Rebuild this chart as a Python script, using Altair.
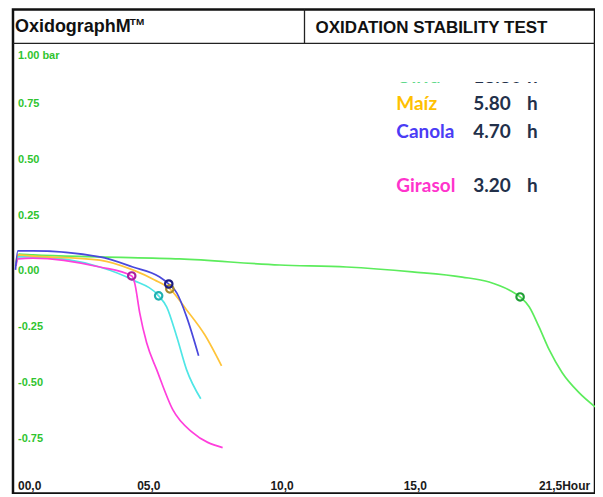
import altair as alt
import pandas as pd

# ---------------- data ----------------
series_names = ["Oliva", "Soja", "Girasol", "Maíz", "Canola"]
series_colors = ["#5cec5c", "#4fe6e6", "#ff3fdc", "#ffc43a", "#4a48dc"]
marker_colors = ["#1f9e35", "#20b0b0", "#a8209c", "#a88a2a", "#1c1c82"]

oliva_h = [0.00, 0.13, 0.66, 3.16, 6.16, 9.91, 12.42, 14.89, 16.76, 17.77, 18.52, 18.93, 19.27, 19.64, 20.02, 20.51, 21.14, 21.74]
oliva_v = [0.025, 0.078, 0.074, 0.065, 0.056, 0.029, 0.020, -0.002, -0.025, -0.047, -0.083, -0.114, -0.158, -0.248, -0.350, -0.453, -0.542, -0.605]

soja_h = [0.02, 0.09, 0.66, 3.16, 4.40, 5.37, 5.67, 6.05, 6.42, 6.95]
soja_v = [0.033, 0.065, 0.065, 0.020, -0.038, -0.109, -0.158, -0.292, -0.440, -0.569]

girasol_h = [0.02, 0.09, 0.66, 3.16, 4.36, 4.47, 4.66, 4.92, 5.30, 5.90, 6.65, 7.77]
girasol_v = [0.025, 0.056, 0.060, 0.020, -0.020, -0.051, -0.185, -0.319, -0.440, -0.618, -0.721, -0.788]

maiz_h = [0.02, 0.09, 0.66, 3.16, 4.40, 5.22, 5.79, 6.42, 7.10, 7.73]
maiz_v = [0.042, 0.074, 0.069, 0.051, 0.007, -0.038, -0.078, -0.172, -0.283, -0.422]

canola_h = [0.00, 0.09, 0.66, 3.16, 4.40, 5.41, 5.75, 6.05, 6.42, 6.87]
canola_v = [0.007, 0.092, 0.092, 0.065, 0.020, -0.025, -0.056, -0.096, -0.203, -0.377]

# induction points (circles)
marker_h = [18.93, 5.37, 4.36, 5.79, 5.75]
marker_v = [-0.114, -0.109, -0.020, -0.078, -0.056]

# axis tick labels
y_tick_values = [1.00, 0.75, 0.50, 0.25, 0.00, -0.25, -0.50, -0.75]
y_tick_labels = ["1.00 bar", "0.75", "0.50", "0.25", "0.00", "-0.25", "-0.50", "-0.75"]
x_tick_values = [0.0, 5.0, 10.0, 15.0, 21.5]
x_tick_labels = ["00,0", "05,0", "10,0", "15,0", "21,5Hour"]

# legend-like annotation
legend_names = ["Oliva", "Maíz", "Canola", "Girasol"]
legend_times = ["18.80", "5.80", "4.70", "3.20"]
legend_colors = ["#5fd98a", "#ffc000", "#4b3cf5", "#ff33cc"]

header_left = "OxidographM"
header_tm = "TM"
header_right = "OXIDATION STABILITY TEST"

# ---------------- layout ----------------
W, H = 583, 485
x_dom = [-0.094, 21.74]
y_dom = [-0.9933, 1.1719]

xscale = alt.Scale(domain=x_dom, nice=False, zero=False)
yscale = alt.Scale(domain=y_dom, nice=False, zero=False)


def X(f):
    return alt.X(f, type="quantitative", scale=xscale, axis=None)


def Y(f):
    return alt.Y(f, type="quantitative", scale=yscale, axis=None)


rows = []
for name, hs, vs in [("Oliva", oliva_h, oliva_v), ("Soja", soja_h, soja_v),
                     ("Girasol", girasol_h, girasol_v), ("Maíz", maiz_h, maiz_v),
                     ("Canola", canola_h, canola_v)]:
    for i, (h, v) in enumerate(zip(hs, vs)):
        rows.append({"serie": name, "h": h, "v": v, "i": i})
df = pd.DataFrame(rows)

df_mark = pd.DataFrame({"serie": series_names, "h": marker_h, "v": marker_v})

color_scale = alt.Scale(domain=series_names, range=series_colors)
mcolor_scale = alt.Scale(domain=series_names, range=marker_colors)

lines = alt.Chart(df).mark_line(strokeWidth=1.7, interpolate="monotone", clip=True).encode(
    x=X("h"), y=Y("v"),
    color=alt.Color("serie:N", scale=color_scale, legend=None),
    order="i:Q",
)

markers = alt.Chart(df_mark).mark_point(shape="circle", filled=False, size=55, strokeWidth=2.2, opacity=1).encode(
    x=X("h"), y=Y("v"),
    color=alt.Color("serie:N", scale=mcolor_scale, legend=None),
)

# y tick labels (inside the frame, green)
df_y = pd.DataFrame({"v": y_tick_values, "lab": y_tick_labels})
ylab_font = dict(font="Liberation Sans", fontWeight="bold", fontSize=11, color="#2fc42f",
                 align="left", baseline="middle")
ylabels_top = alt.Chart(df_y.iloc[:1]).mark_text(dy=8, **ylab_font).encode(
    x=alt.value(5), y=Y("v"), text="lab:N")
ylabels = alt.Chart(df_y.iloc[1:]).mark_text(**ylab_font).encode(
    x=alt.value(5), y=Y("v"), text="lab:N")

# x tick labels
df_x = pd.DataFrame({"h": x_tick_values, "lab": x_tick_labels})
xlab_font = dict(font="Liberation Sans", fontWeight="bold", fontSize=12, color="#1a1a1a", baseline="middle")
xlab_y = 477
xl_first = alt.Chart(df_x.iloc[:1]).mark_text(align="left", dx=2.5, **xlab_font).encode(
    x=X("h"), y=alt.value(xlab_y), text="lab:N")
xl_mid = alt.Chart(df_x.iloc[1:4]).mark_text(align="center", **xlab_font).encode(
    x=X("h"), y=alt.value(xlab_y), text="lab:N")
xl_last = alt.Chart(df_x.iloc[4:]).mark_text(align="right", dx=1.5, **xlab_font).encode(
    x=X("h"), y=alt.value(xlab_y), text="lab:N")

# header
header_line = alt.Chart(pd.DataFrame({"a": [0]})).mark_rule(color="#222", strokeWidth=1.3).encode(
    x=alt.value(0), x2=alt.value(W), y=alt.value(34))
header_div = alt.Chart(pd.DataFrame({"a": [0]})).mark_rule(color="#222", strokeWidth=1.3).encode(
    x=alt.value(292), y=alt.value(0), y2=alt.value(34))
head_l = alt.Chart(pd.DataFrame({"t": [header_left]})).mark_text(
    align="left", baseline="alphabetic", font="Liberation Sans", fontWeight="bold", fontSize=18, color="#111").encode(
    x=alt.value(2), y=alt.value(23), text="t:N")
head_tm = alt.Chart(pd.DataFrame({"t": [header_tm]})).mark_text(
    align="left", baseline="alphabetic", font="Liberation Sans", fontWeight="bold", fontSize=10, color="#111").encode(
    x=alt.value(117), y=alt.value(16), text="t:N")
head_r = alt.Chart(pd.DataFrame({"t": [header_right]})).mark_text(
    align="left", baseline="alphabetic", font="Liberation Sans", fontWeight="bold", fontSize=17, color="#111").encode(
    x=alt.value(303), y=alt.value(24), text="t:N")

# legend annotation
leg_y = [68, 95, 123, 177]   # chart px centers
df_leg = pd.DataFrame({"name": legend_names, "time": legend_times, "col": legend_colors, "yy": leg_y})
leg_font = dict(font="Lato", fontWeight="bold", fontSize=19, baseline="middle", align="left")
leg_name = alt.Chart(df_leg).mark_text(**leg_font).encode(
    x=alt.value(384), y=alt.Y("yy:Q", scale=None), text="name:N",
    color=alt.Color("col:N", scale=None))
leg_time = alt.Chart(df_leg).mark_text(color="#22304a", **leg_font).encode(
    x=alt.value(461), y=alt.Y("yy:Q", scale=None), text="time:N")
leg_h = alt.Chart(df_leg.assign(u="h")).mark_text(color="#22304a", **leg_font).encode(
    x=alt.value(515), y=alt.Y("yy:Q", scale=None), text="u:N")

# white mask hiding most of the first annotation line
mask = alt.Chart(pd.DataFrame({"a": [0]})).mark_rect(color="white").encode(
    x=alt.value(375), x2=alt.value(560), y=alt.value(48), y2=alt.value(72.8))

chart = alt.layer(
    lines, markers, ylabels_top, ylabels, xl_first, xl_mid, xl_last,
    leg_name, leg_time, leg_h, mask,
    header_line, header_div, head_l, head_tm, head_r,
).properties(
    width=W, height=H,
    autosize=alt.AutoSizeParams(type="none"),
    padding={"left": 5, "top": 1, "right": 0, "bottom": 0},
).configure_view(stroke="#111", strokeWidth=2.5).resolve_scale(color="independent")

chart.save("out.html", embed_options={"renderer": "svg", "actions": False})
